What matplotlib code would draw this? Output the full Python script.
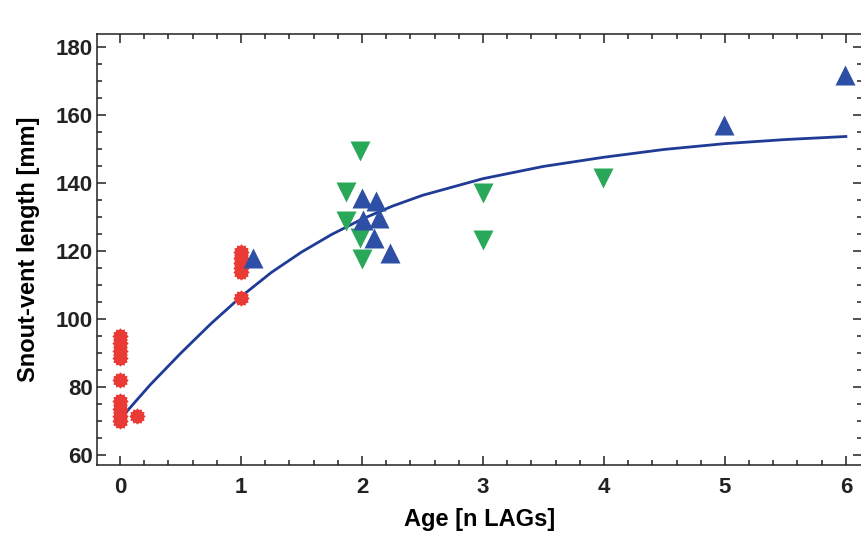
import matplotlib
matplotlib.use("Agg")
import matplotlib.pyplot as plt
from matplotlib.path import Path
from matplotlib.ticker import MultipleLocator

# red points (age 0 and 1)
red_x = [0, 0, 0, 0, 0, 0, 0, 0, 0, 0.14, 1, 1, 1, 1, 1, 1]
red_y = [95, 93, 90.5, 88.5, 82, 75.8, 73.6, 71.4, 69.8, 71.5,
         119.5, 118, 116.5, 115, 113.8, 106.2]

# green down triangles
green_x = [1.98, 1.87, 1.87, 1.98, 2.0, 3.0, 3.0, 3.99]
green_y = [149.2, 137.2, 128.7, 123.8, 117.5, 137.0, 123.2, 141.4]

# blue up triangles
blue_x = [1.10, 2.0, 2.12, 2.01, 2.14, 2.10, 2.23, 4.99, 5.99]
blue_y = [117.9, 135.5, 134.5, 129.1, 129.6, 123.7, 119.3, 157.0, 171.8]

# growth curve
curve_x = [0.05, 0.25, 0.5, 0.75, 1.0, 1.25, 1.5, 1.75, 2.0, 2.25, 2.5,
           3.0, 3.5, 4.0, 4.5, 5.0, 5.5, 6.0]
curve_y = [72.5, 80.6, 89.8, 98.5, 106.5, 113.6, 119.6, 124.8, 129.3,
           133.1, 136.3, 141.2, 144.8, 147.5, 149.8, 151.5, 152.7, 153.6]

RED = "#ea3a35"
GREEN = "#2aa85a"
BLUE = "#2d4fa5"
LINE = "#1f3b96"

plt.rcParams['font.family'] = ['Liberation Sans', 'DejaVu Sans']
plt.rcParams['font.weight'] = 'bold'

fig = plt.figure(figsize=(8.61, 5.33), dpi=100)
ax = fig.add_axes([0.1127, 0.1276, 0.888, 0.809])

star = Path.unit_regular_star(12, innerCircle=0.78)

ax.plot(curve_x, curve_y, color=LINE, lw=2.0, zorder=2)
ax.plot(red_x, red_y, ls='none', marker=star, ms=10.5, color=RED, mec=RED, zorder=3)
ax.plot(green_x, green_y, ls='none', marker='v', ms=14, color=GREEN, mec='none', zorder=3)
ax.plot(blue_x, blue_y, ls='none', marker='^', ms=14, color=BLUE, mec='none', zorder=4)

ax.set_xlim(-0.19, 6.13)
ax.set_ylim(57, 183.8)
ax.xaxis.set_major_locator(MultipleLocator(1))
ax.xaxis.set_minor_locator(MultipleLocator(0.2))
ax.yaxis.set_major_locator(MultipleLocator(20))
ax.yaxis.set_minor_locator(MultipleLocator(5))
ax.tick_params(which='both', direction='in', top=True, right=True, width=1.1,
               colors='#222222', labelsize=16)
ax.tick_params(axis='x', which='major', pad=9)
ax.tick_params(axis='y', which='major', pad=3)
ax.tick_params(which='major', length=6.5)
ax.tick_params(which='minor', length=3.5)
for lab in ax.get_xticklabels() + ax.get_yticklabels():
    lab.set_fontweight('bold')
for s in ax.spines.values():
    s.set_linewidth(1.1)
    s.set_color('#222222')

ax.set_xlabel("Age [n LAGs]", fontsize=17, fontweight='bold', labelpad=7)
ax.set_ylabel("Snout-vent length [mm]", fontsize=17, fontweight='bold', labelpad=11)

fig.savefig("out.png", dpi=100)
